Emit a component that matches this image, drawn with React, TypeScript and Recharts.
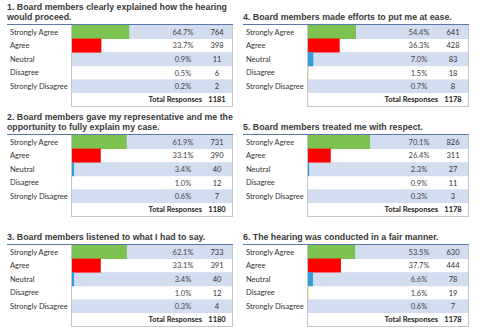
import React from 'react';
import { BarChart, Bar, XAxis, YAxis, Cell, LabelList } from 'recharts';

const categories = ['Strongly Agree', 'Agree', 'Neutral', 'Disagree', 'Strongly Disagree'];
const barColors = ['#7cc250', '#ff0000', '#2f9bd8', '#ffc000', '#1f497d'];

const titles = [
  '1. Board members clearly explained how the hearing\nwould proceed.',
  '2. Board members gave my representative and me the\nopportunity to fully explain my case.',
  '3. Board members listened to what I had to say.',
  '4. Board members made efforts to put me at ease.',
  '5. Board members treated me with respect.',
  '6. The hearing was conducted in a fair manner.',
];

const pct1 = [64.7, 33.7, 0.9, 0.5, 0.2];
const pct2 = [61.9, 33.1, 3.4, 1.0, 0.6];
const pct3 = [62.1, 33.1, 3.4, 1.0, 0.3];
const pct4 = [54.4, 36.3, 7.0, 1.5, 0.7];
const pct5 = [70.1, 26.4, 2.3, 0.9, 0.3];
const pct6 = [53.5, 37.7, 6.6, 1.6, 0.6];

const count1 = [764, 398, 11, 6, 2];
const count2 = [731, 390, 40, 12, 7];
const count3 = [733, 391, 40, 12, 4];
const count4 = [641, 428, 83, 18, 8];
const count5 = [826, 311, 27, 11, 3];
const count6 = [630, 444, 78, 19, 7];

const totals = [1181, 1180, 1180, 1178, 1178, 1178];

const pcts = [pct1, pct2, pct3, pct4, pct5, pct6];
const counts = [count1, count2, count3, count4, count5, count6];

// where each question sits on the page
const slots = [
  { left: 0, top: 24 },
  { left: 0, top: 134 },
  { left: 0, top: 244 },
  { left: 236, top: 24 },
  { left: 236, top: 134 },
  { left: 236, top: 244 },
];

const BODY_FONT = 'Lato, "Liberation Sans", sans-serif';
const TITLE_FONT = '"Liberation Sans", Arial, sans-serif';
const SHADE = '#d2ddef';
const BORDER = '#c4c8cc';
const PCT_X = 183;
const COUNT_X = 217;

function Panel({ idx }: { idx: number }) {
  const { left, top } = slots[idx];
  const data = categories.map((label, i) => ({ label, pct: pcts[idx][i], count: counts[idx][i] }));

  return (
    <div style={{ position: 'absolute', left, top, width: 236, height: 84 }}>
      <div
        style={{
          position: 'absolute', left: 7, bottom: '100%', marginBottom: 2,
          whiteSpace: 'pre', fontFamily: TITLE_FONT, fontWeight: 'bold',
          fontSize: 8.8, lineHeight: '10px', color: '#3a3a3a',
        }}
      >
        {titles[idx]}
      </div>
      <div style={{ position: 'absolute', left: 7, top: -0.5, width: 226, height: 0, borderTop: '1.5px solid #5a78a8' }} />
      <div style={{ position: 'absolute', left: 0, top: 1 }}>
        <BarChart
          width={234} height={68}
          layout="vertical"
          data={data}
          margin={{ top: 0, right: 1, bottom: 0, left: 0 }}
          barCategoryGap={0}
        >
          <XAxis type="number" domain={[0, 180]} hide />
          <YAxis
            type="category" dataKey="label" width={71} interval={0}
            axisLine={false} tickLine={false}
            tick={(p: any) => (
              <text x={10} y={p.y} dy={2.7} fontSize={7.5} fill="#333" fontFamily={BODY_FONT}>
                {p.payload.value}
              </text>
            )}
          />
          <Bar
            dataKey="pct" isAnimationActive={false} minPointSize={1}
            background={(p: any) =>
              p.index % 2 === 0
                ? <rect key={`bg-${p.index}`} x={p.x} y={p.y} width={p.width} height={p.height} fill={SHADE} />
                : <g key={`bg-${p.index}`} />
            }
          >
            {data.map((d, i) => <Cell key={d.label} fill={barColors[i]} />)}
            <LabelList
              dataKey="pct"
              content={(p: any) => (
                <text x={PCT_X} y={Number(p.y) + Number(p.height) / 2} dy={2.7} textAnchor="middle"
                  fontSize={7.5} fill="#444" fontFamily={BODY_FONT}>
                  {Number(p.value).toFixed(1)}%
                </text>
              )}
            />
            <LabelList
              dataKey="count"
              content={(p: any) => (
                <text x={COUNT_X} y={Number(p.y) + Number(p.height) / 2} dy={2.7} textAnchor="middle"
                  fontSize={7.5} fill="#333" fontFamily={BODY_FONT}>
                  {p.value}
                </text>
              )}
            />
          </Bar>
        </BarChart>
      </div>
      <div
        style={{
          position: 'absolute', left: 71, top: 1, width: 162, height: 82,
          borderLeft: `1px solid ${BORDER}`, borderRight: `1px solid ${BORDER}`, borderBottom: `1px solid ${BORDER}`,
          boxSizing: 'border-box', pointerEvents: 'none',
        }}
      />
      <div
        style={{
          position: 'absolute', left: 71, top: 69, width: 131, height: 14, lineHeight: '14px',
          textAlign: 'right', fontFamily: BODY_FONT, fontWeight: 'bold', fontSize: 7.5, color: '#222',
        }}
      >
        Total Responses
      </div>
      <div
        style={{
          position: 'absolute', left: COUNT_X - 15, top: 69, width: 30, height: 14, lineHeight: '14px',
          textAlign: 'center', fontFamily: BODY_FONT, fontWeight: 'bold', fontSize: 7.5, color: '#222',
        }}
      >
        {totals[idx]}
      </div>
    </div>
  );
}

export default function App() {
  return (
    <div style={{ position: 'absolute', left: 0, top: 0, width: 480, height: 329, background: '#fff', overflow: 'hidden' }}>
      {titles.map((_, i) => <Panel key={i} idx={i} />)}
    </div>
  );
}
